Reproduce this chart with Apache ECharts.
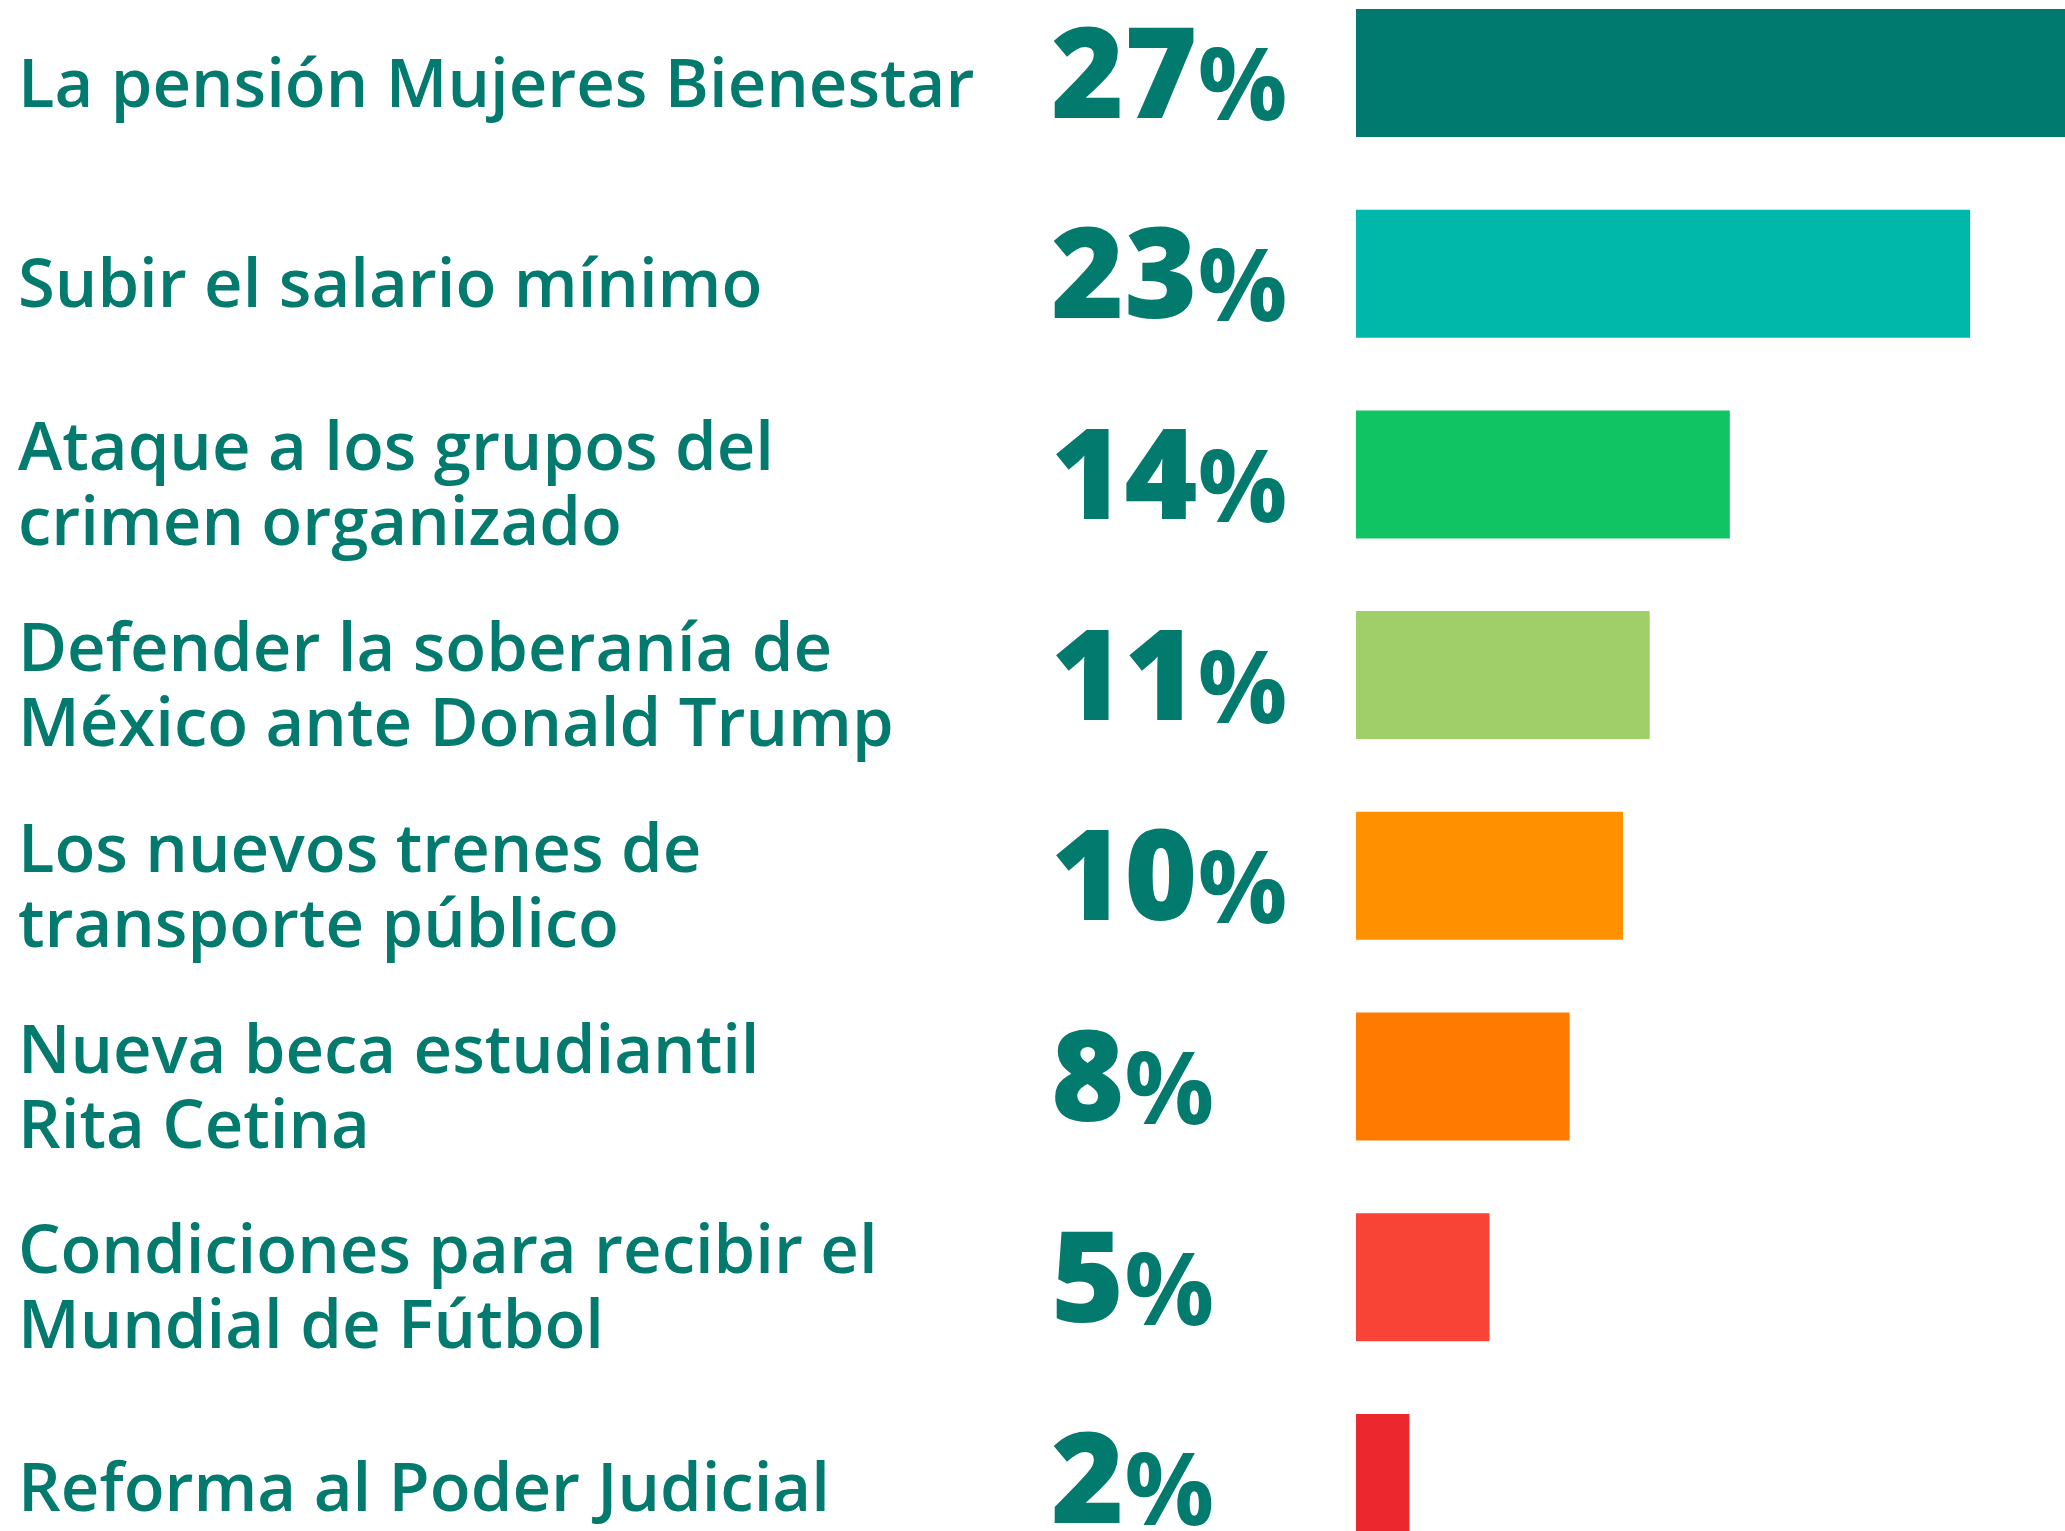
<!DOCTYPE html>
<html>
<head>
<meta charset="utf-8">
<script src="https://cdn.jsdelivr.net/npm/echarts@6/dist/echarts.min.js"></script>
<style>
html,body{margin:0;padding:0;background:#fff;}
#chart{width:2065px;height:1531px;}
</style>
</head>
<body>
<div id="chart"></div>
<script>
const categories = [
  'La pensión Mujeres Bienestar',
  'Subir el salario mínimo',
  'Ataque a los grupos del\ncrimen organizado',
  'Defender la soberanía de\nMéxico ante Donald Trump',
  'Los nuevos trenes de\ntransporte público',
  'Nueva beca estudiantil\nRita Cetina',
  'Condiciones para recibir el\nMundial de Fútbol',
  'Reforma al Poder Judicial'
];
const values = [27, 23, 14, 11, 10, 8, 5, 2];
const barColors = ['#007A6E', '#00B8A9', '#10C363', '#A0CF69', '#FF9100', '#FF7A00', '#F84437', '#EC272E'];

const textColor = '#027A6D';
const chart = echarts.init(document.getElementById('chart'), null, {renderer: 'canvas'});

chart.setOption({
  backgroundColor: '#ffffff',
  animation: false,
  grid: {
    left: 1356,
    right: -92,
    top: -27.35,
    bottom: -47.25,
    containLabel: false,
    outerBoundsMode: 'none'
  },
  xAxis: {
    type: 'value',
    min: 0,
    max: 30,
    show: false
  },
  yAxis: {
    type: 'category',
    inverse: true,
    data: categories,
    axisLine: {show: false},
    axisTick: {show: false},
    splitLine: {show: false},
    axisLabel: {
      align: 'left',
      margin: 1338,
      color: textColor,
      fontFamily: 'Open Sans',
      fontWeight: 600,
      fontSize: 67,
      lineHeight: 75,
      formatter: v => '{s| }\n' + v.split('\n').map(l => '{t|' + l + '}').join('\n'),
      rich: {
        s: {fontSize: 1, lineHeight: 29},
        t: {
          color: textColor,
          fontFamily: 'Open Sans',
          fontWeight: 600,
          fontSize: 67,
          lineHeight: 75
        }
      }
    }
  },
  series: [{
    type: 'bar',
    data: values.map((v, i) => ({value: v, itemStyle: {color: barColors[i]}})),
    barWidth: 128,
    label: {
      show: true,
      position: [-305, '50%'],
      offset: [0, 9],
      align: 'left',
      verticalAlign: 'middle',
      formatter: p => '{n|' + p.value + '}{p|%}',
      rich: {
        n: {
          fontFamily: 'Open Sans',
          fontWeight: 800,
          fontSize: 125,
          color: textColor
        },
        p: {
          fontFamily: 'Open Sans',
          fontWeight: 700,
          fontSize: 100,
          color: textColor,
          padding: [20, 0, 0, 0]
        }
      }
    }
  }]
});
</script>
</body>
</html>
